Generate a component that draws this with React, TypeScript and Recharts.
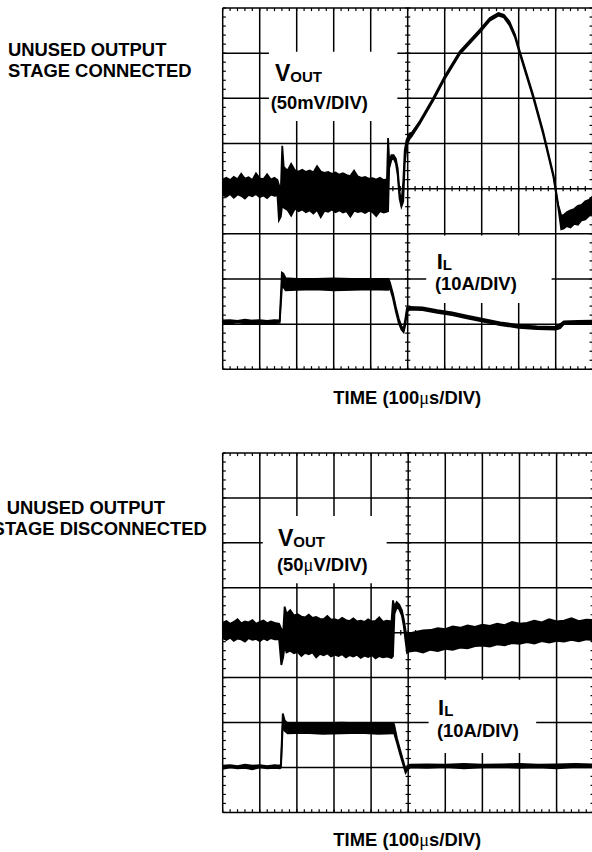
import React from 'react';
import {
  ComposedChart,
  Area,
  XAxis,
  YAxis,
  CartesianGrid,
  ReferenceArea,
  ReferenceLine,
} from 'recharts';

// scope graticule, in divisions (time 100us/div, amplitude per channel setting)
const divX = [0, 1, 2, 3, 4, 5, 6, 7, 8, 9, 10];
const divY = [-4, -3, -2, -1, 0, 1, 2, 3, 4];

// ---- unused output stage connected ----
// VOUT (50mV/DIV): time, lower and upper edge of the trace
const voutConT = [
  0, 0.1, 0.2, 0.3, 0.4, 0.5, 0.6, 0.7, 0.8, 0.9, 1.0, 1.1, 1.2, 1.3, 1.4, 1.48,
  1.52, 1.57, 1.61, 1.65, 1.75, 1.85, 1.95, 2.05, 2.15, 2.25, 2.35, 2.45, 2.55, 2.65,
  2.75, 2.85, 2.95, 3.05, 3.15, 3.25, 3.35, 3.45, 3.55, 3.65, 3.75, 3.85, 3.95, 4.05,
  4.15, 4.25, 4.35, 4.44, 4.47, 4.5, 4.56, 4.62, 4.68, 4.73, 4.78, 4.83, 4.88, 4.92,
  4.97, 5.05, 5.11, 5.33, 5.69, 6.0, 6.41, 6.95, 7.22, 7.45, 7.6, 7.75, 7.9, 8.03,
  8.39, 8.66, 8.94, 9.07, 9.15, 9.22, 9.3, 9.4, 9.5, 9.6, 9.7, 9.8, 9.9, 10,
];
const voutConLo = [
  -0.14, -0.18, -0.12, -0.2, -0.13, -0.16, -0.22, -0.14, -0.17, -0.12, -0.19, -0.15, -0.21, -0.13, -0.16, -0.15,
  -0.7, -0.62, -0.35, -0.42, -0.47, -0.6, -0.44, -0.5, -0.46, -0.52, -0.48, -0.55, -0.47, -0.63,
  -0.49, -0.51, -0.46, -0.52, -0.48, -0.53, -0.5, -0.62, -0.49, -0.52, -0.5, -0.54, -0.49, -0.52,
  -0.61, -0.5, -0.53, -0.51, -0.5, 0.45, 0.64, 0.67, 0.56, 0.3, -0.22, -0.4, -0.28, 0.55,
  0.95, 1.1, 1.16, 1.44, 1.95, 2.43, 2.98, 3.46, 3.72, 3.83, 3.79, 3.62, 3.35, 2.98,
  2.02, 1.21, 0.25, -0.42, -0.9, -0.88, -0.83, -0.86, -0.78, -0.8, -0.7, -0.68, -0.6, -0.55,
];
const voutConHi = [
  0.2, 0.24, 0.19, 0.26, 0.21, 0.33, 0.22, 0.25, 0.19, 0.34, 0.23, 0.21, 0.32, 0.2, 0.24, 0.19,
  0.08, -0.05, 0.95, 0.48, 0.4, 0.55, 0.41, 0.38, 0.42, 0.37, 0.4, 0.36, 0.5, 0.38,
  0.35, 0.37, 0.33, 0.36, 0.31, 0.34, 0.3, 0.28, 0.4, 0.27, 0.24, 0.26, 0.22, 0.23,
  0.2, 0.24, 0.19, 0.21, 1.12, 0.62, 0.74, 0.74, 0.66, 0.45, -0.08, -0.3, 0.15, 0.85,
  1.08, 1.22, 1.24, 1.5, 2.01, 2.49, 3.04, 3.52, 3.78, 3.89, 3.85, 3.7, 3.41, 3.04,
  2.08, 1.27, 0.31, -0.36, -0.6, -0.58, -0.52, -0.48, -0.45, -0.38, -0.36, -0.28, -0.25, -0.17,
];

// IL (10A/DIV)
const ilConT = [
  0, 0.2, 0.4, 0.6, 0.8, 1.0, 1.2, 1.4, 1.54, 1.6, 1.64, 1.7, 2.0, 2.5, 3.0, 3.5, 4.0,
  4.48, 4.52, 4.6, 4.68, 4.76, 4.83, 4.89, 4.94, 4.98, 5.05, 5.4, 5.8, 6.2, 6.6, 7.0,
  7.5, 8.0, 8.5, 9.0, 9.12, 9.22, 9.6, 10,
];
const ilConLo = [
  -2.97, -2.99, -2.96, -2.98, -2.97, -3.0, -2.97, -2.98, -2.97, -2.2, -2.18, -2.25, -2.24, -2.23, -2.25, -2.24, -2.23,
  -2.24, -2.2, -2.42, -2.72, -2.98, -3.12, -3.18, -3.0, -2.72, -2.68, -2.69, -2.75, -2.8, -2.87, -2.94,
  -3.02, -3.08, -3.11, -3.12, -3.09, -3.0, -2.99, -2.98,
];
const ilConHi = [
  -2.92, -2.91, -2.93, -2.9, -2.92, -2.91, -2.93, -2.91, -2.92, -1.86, -1.88, -1.98, -2.0, -2.0, -1.99, -2.0, -2.0,
  -2.0, -2.08, -2.32, -2.62, -2.88, -3.05, -3.1, -2.86, -2.64, -2.62, -2.63, -2.69, -2.74, -2.81, -2.88,
  -2.96, -3.02, -3.05, -3.06, -3.0, -2.94, -2.93, -2.92,
];

// ---- unused output stage disconnected ----
// VOUT (50uV/DIV)
const voutDisT = [
  0, 0.1, 0.2, 0.3, 0.4, 0.5, 0.6, 0.7, 0.8, 0.9, 1.0, 1.1, 1.2, 1.3, 1.4, 1.52,
  1.58, 1.63, 1.67, 1.72, 1.82, 1.92, 2.02, 2.12, 2.22, 2.32, 2.42, 2.52, 2.62, 2.72,
  2.82, 2.92, 3.02, 3.12, 3.22, 3.32, 3.42, 3.52, 3.62, 3.72, 3.82, 3.92, 4.02, 4.12,
  4.22, 4.32, 4.42, 4.55, 4.59, 4.63, 4.69, 4.76, 4.83, 4.88, 4.93, 4.97, 5.02, 5.2,
  5.4, 5.6, 5.8, 6.0, 6.2, 6.4, 6.6, 6.8, 7.0, 7.2, 7.4, 7.6, 7.8, 8.0,
  8.2, 8.4, 8.6, 8.8, 9.0, 9.2, 9.4, 9.6, 9.8, 10,
];
const voutDisLo = [
  -0.12, -0.16, -0.11, -0.18, -0.13, -0.15, -0.2, -0.12, -0.16, -0.14, -0.19, -0.13, -0.17, -0.12, -0.15, -0.14,
  -0.72, -0.55, -0.3, -0.44, -0.4, -0.46, -0.43, -0.52, -0.45, -0.48, -0.44, -0.55, -0.47, -0.5,
  -0.46, -0.53, -0.49, -0.52, -0.48, -0.55, -0.5, -0.53, -0.49, -0.56, -0.51, -0.54, -0.5, -0.57,
  -0.52, -0.55, -0.53, -0.56, -0.52, 0.42, 0.56, 0.52, 0.38, 0.15, -0.2, -0.45, -0.42, -0.4,
  -0.44, -0.38, -0.41, -0.36, -0.38, -0.33, -0.35, -0.3, -0.29, -0.31, -0.26, -0.28, -0.23, -0.25,
  -0.21, -0.24, -0.19, -0.22, -0.18, -0.2, -0.16, -0.19, -0.15, -0.17,
];
const voutDisHi = [
  0.22, 0.26, 0.2, 0.24, 0.3, 0.21, 0.25, 0.23, 0.28, 0.2, 0.24, 0.27, 0.21, 0.25, 0.22, 0.2,
  0.08, 0.02, 0.58, 0.42, 0.5, 0.38, 0.41, 0.36, 0.34, 0.4, 0.33, 0.35, 0.31, 0.3,
  0.37, 0.29, 0.3, 0.27, 0.33, 0.28, 0.26, 0.32, 0.25, 0.27, 0.24, 0.3, 0.25, 0.26,
  0.34, 0.24, 0.27, 0.25, 0.72, 0.58, 0.68, 0.62, 0.5, 0.3, 0.05, -0.08, -0.02, 0.02,
  0.05, 0.06, 0.1, 0.08, 0.14, 0.11, 0.16, 0.13, 0.18, 0.15, 0.2, 0.17, 0.24, 0.2,
  0.22, 0.27, 0.23, 0.3, 0.25, 0.27, 0.32, 0.26, 0.29, 0.28,
];

// IL (10A/DIV)
const ilDisT = [
  0, 0.2, 0.4, 0.6, 0.8, 1.0, 1.2, 1.4, 1.54, 1.57, 1.62, 1.67, 1.75, 2.2, 2.7, 3.2, 3.7,
  4.2, 4.6, 4.62, 4.7, 4.78, 4.86, 4.93, 4.98, 5.05, 5.5, 6.0, 6.5, 7.0, 7.5, 8.0, 8.5,
  9.0, 9.5, 10,
];
const ilDisLo = [
  -3.03, -3.0, -3.02, -3.01, -3.04, -3.0, -3.02, -3.01, -3.02, -3.0, -2.05, -2.18, -2.24, -2.23, -2.25, -2.24, -2.23,
  -2.25, -2.24, -2.24, -2.46, -2.7, -2.92, -3.12, -3.05, -3.0, -3.01, -2.99, -3.02, -3.0, -2.99, -3.01, -3.0,
  -3.02, -2.99, -3.0,
];
const ilDisHi = [
  -2.96, -2.95, -2.97, -2.94, -2.96, -2.95, -2.97, -2.95, -2.96, -2.92, -1.8, -1.95, -2.02, -2.01, -2.02, -2.0, -2.02,
  -2.01, -2.02, -2.04, -2.36, -2.6, -2.84, -3.04, -2.96, -2.94, -2.93, -2.94, -2.92, -2.94, -2.93, -2.92, -2.94,
  -2.93, -2.92, -2.93,
];

// label keep-out boxes [x1, x2, y1, y2] in divisions
const boxesCon = [
  [1.25, 4.72, 1.5, 3.03],
  [5.5, 8.89, -2.53, -1.04],
];
const boxesDis = [
  [1.08, 4.42, 1.1, 2.6],
  [5.55, 8.45, -2.68, -1.05],
];

const minorX = Array.from({ length: 51 }, (_, i) => Math.round(i * 2) / 10);
const minorY = Array.from({ length: 41 }, (_, i) => Math.round(-40 + i * 2) / 10);

const toRows = (t: number[], lo: number[], hi: number[]) =>
  t.map((x, i) => ({ t: x, band: [lo[i], hi[i]] }));

const FONT = "'Liberation Sans', Arial, Helvetica, sans-serif";

function Scope({ traces, boxes, width, height, pxX, pxY }: any) {
  const tx = 2.6 / pxX; // half-length of a minor tick, in divisions
  const ty = 2.6 / pxY;
  const ticks: any[] = [];
  minorX.forEach((x, i) => {
    ticks.push([[x, -ty], [x, ty], 'c' + i]);
    ticks.push([[x, 4], [x, 4 - 1.2 * ty], 't' + i]);
    ticks.push([[x, -4], [x, -4 + 1.2 * ty], 'b' + i]);
  });
  minorY.forEach((y, i) => {
    ticks.push([[5 - tx, y], [5 + tx, y], 'm' + i]);
    ticks.push([[0, y], [1.2 * tx, y], 'l' + i]);
    ticks.push([[10, y], [10 - 1.2 * tx, y], 'r' + i]);
  });
  return (
    <ComposedChart width={width} height={height} margin={{ top: 8, right: 6, bottom: 2, left: 2.7 }}>
      <XAxis type="number" dataKey="t" domain={[0, 10]} ticks={divX} hide allowDataOverflow />
      <YAxis type="number" domain={[-4, 4]} ticks={divY} hide allowDataOverflow />
      <CartesianGrid stroke="#000" strokeWidth={1.5} />
      {boxes.map((b: number[], i: number) => (
        <ReferenceArea
          key={'box' + i}
          x1={b[0]}
          x2={b[1]}
          y1={b[2]}
          y2={b[3]}
          fill="#fff"
          fillOpacity={1}
          stroke="none"
          ifOverflow="visible"
        />
      ))}
      {ticks.map(([a, b, k]) => (
        <ReferenceLine
          key={k}
          segment={[{ x: a[0], y: a[1] }, { x: b[0], y: b[1] }]}
          stroke="#000"
          strokeWidth={1.2}
          ifOverflow="visible"
        />
      ))}
      {traces.map((rows: any[], i: number) => (
        <Area
          key={'tr' + i}
          data={rows}
          dataKey="band"
          type="linear"
          stroke="#000"
          strokeWidth={1.8}
          fill="#000"
          fillOpacity={1}
          dot={false}
          activeDot={false}
          isAnimationActive={false}
        />
      ))}
    </ComposedChart>
  );
}

export default function App() {
  const con = [toRows(voutConT, voutConLo, voutConHi), toRows(ilConT, ilConLo, ilConHi)];
  const dis = [toRows(voutDisT, voutDisLo, voutDisHi), toRows(ilDisT, ilDisLo, ilDisHi)];
  return (
    <div
      style={{
        position: 'absolute',
        left: 0,
        top: 0,
        width: 592,
        height: 852,
        overflow: 'hidden',
        background: '#fff',
      }}
    >
      <div style={{ position: 'absolute', left: 220, top: 0 }}>
        <Scope traces={con} boxes={boxesCon} width={378.7} height={371.3} pxX={37} pxY={45.16} />
      </div>
      <div style={{ position: 'absolute', left: 220, top: 445.3 }}>
        <Scope traces={dis} boxes={boxesDis} width={379.7} height={369.4} pxX={37.1} pxY={44.92} />
      </div>
      <svg
        width={592}
        height={852}
        style={{ position: 'absolute', left: 0, top: 0, pointerEvents: 'none' }}
      >
        <g fontFamily={FONT} fontWeight="bold" fill="#000">
          <text x={8} y={56} fontSize={18.4}>UNUSED OUTPUT</text>
          <text x={8} y={77.3} fontSize={18.4}>STAGE CONNECTED</text>
          <text x={6.7} y={514} fontSize={18.4}>UNUSED OUTPUT</text>
          <text x={-7.4} y={535} fontSize={18.4}>STAGE DISCONNECTED</text>

          <text x={275} y={80.5}>
            <tspan fontSize={23}>V</tspan>
            <tspan fontSize={15} dy={1}>OUT</tspan>
          </text>
          <text x={270.7} y={109} fontSize={18.4}>(50mV/DIV)</text>
          <text x={436.7} y={268.8}>
            <tspan fontSize={22}>I</tspan>
            <tspan fontSize={15} dy={1}>L</tspan>
          </text>
          <text x={435} y={290.2} fontSize={18.4}>(10A/DIV)</text>

          <text x={278} y={546}>
            <tspan fontSize={23}>V</tspan>
            <tspan fontSize={15} dy={1}>OUT</tspan>
          </text>
          <text x={277} y={571} fontSize={18.4}>
            (50<tspan fontFamily="'Liberation Serif', serif" fontWeight="normal">μ</tspan>V/DIV)
          </text>
          <text x={438} y={714.5}>
            <tspan fontSize={22}>I</tspan>
            <tspan fontSize={15} dy={1}>L</tspan>
          </text>
          <text x={437} y={736.5} fontSize={18.4}>(10A/DIV)</text>

          <text x={407.3} y={404} fontSize={18.4} textAnchor="middle">
            TIME (100<tspan fontFamily="'Liberation Serif', serif" fontWeight="normal">μ</tspan>s/DIV)
          </text>
          <text x={407.3} y={846} fontSize={18.4} textAnchor="middle">
            TIME (100<tspan fontFamily="'Liberation Serif', serif" fontWeight="normal">μ</tspan>s/DIV)
          </text>
        </g>
      </svg>
    </div>
  );
}
